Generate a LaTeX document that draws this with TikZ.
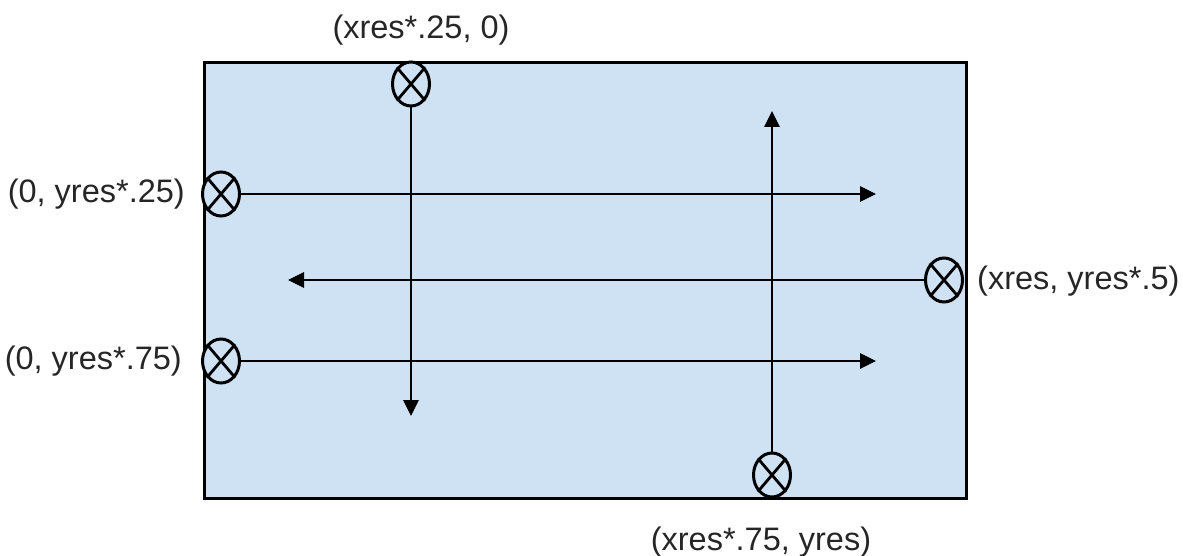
\documentclass[tikz,border=0pt]{standalone}
\usepackage{fontspec}
\setmainfont{Liberation Sans}
\usetikzlibrary{arrows.meta,shapes.geometric}
\definecolor{boxfill}{HTML}{CFE2F3}
\definecolor{txt}{HTML}{262626}
\tikzset{
  xnode/.style={ellipse, draw, line width=3pt, fill=boxfill, minimum width=37pt, minimum height=44pt, inner sep=0pt},
  ray/.style={line width=2.8pt, -{Triangle[length=16pt,width=15pt]}},
  lbl/.style={text=txt, font=\fontsize{32.5}{38}\selectfont, inner sep=0pt},
}
\newcommand{\xcross}[1]{\draw[line width=2.8pt] (#1.north east) -- (#1.south west) (#1.north west) -- (#1.south east);}
\begin{document}
\begin{tikzpicture}[x=1pt,y=-1pt]
\useasboundingbox (0,0) rectangle (1183,556);
\node[draw, line width=3pt, fill=boxfill, minimum width=762pt, minimum height=436pt, inner sep=0pt, anchor=north west] (box) at (203,61) {};

\coordinate (tTop) at (411,416);
\coordinate (tR1) at (876,194);
\coordinate (tR2) at (288,280);
\coordinate (tR3) at (876,361);
\coordinate (tBot) at (772,111);

\node[xnode] (eTop) at (411,84) {};
\node[xnode] (eL1) at (221,194) {};
\node[xnode] (eR) at (944,280) {};
\node[xnode] (eL2) at (221,361) {};
\node[xnode] (eBot) at (772,475) {};

\draw[ray] (eTop) -- (tTop);
\draw[ray] (eL1) -- (tR1);
\draw[ray] (eR) -- (tR2);
\draw[ray] (eL2) -- (tR3);
\draw[ray] (eBot) -- (tBot);

\xcross{eTop}\xcross{eL1}\xcross{eR}\xcross{eL2}\xcross{eBot}

\node[lbl] (lTop) at (421,30) {(xres*.25, 0)};
\node[lbl, anchor=east] (lL1) at (185,194) {(0, yres*.25)};
\node[lbl, anchor=west] (lR) at (977,281) {(xres, yres*.5)};
\node[lbl, anchor=east] (lL2) at (182,361) {(0, yres*.75)};
\node[lbl] (lBot) at (761,542) {(xres*.75, yres)};
\end{tikzpicture}
\end{document}
